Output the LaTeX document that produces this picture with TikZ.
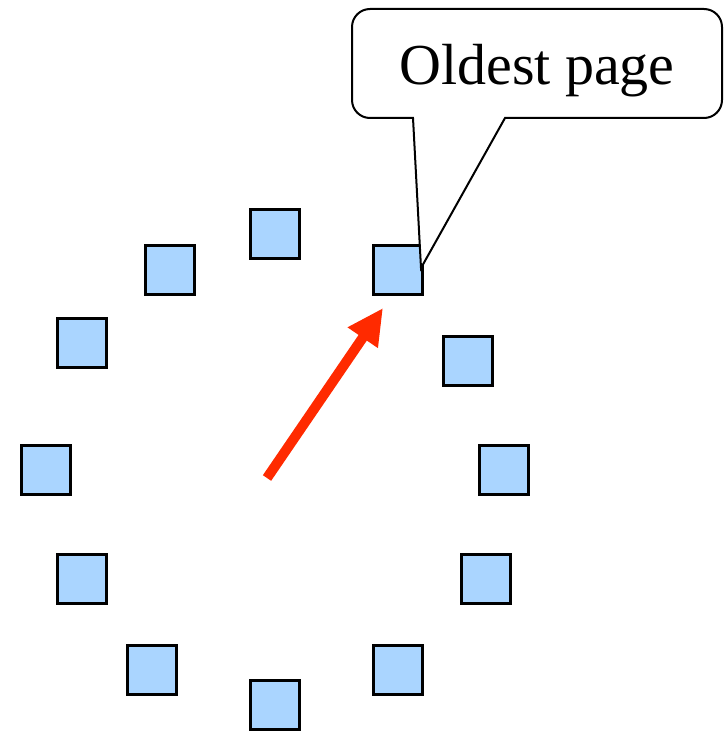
\documentclass[tikz,border=0pt]{standalone}
\usepackage{fontspec}
\setmainfont{Liberation Serif}
\usetikzlibrary{arrows.meta}
\definecolor{pagefill}{RGB}{170,213,255}
\definecolor{handred}{RGB}{255,42,0}
\begin{document}
\begin{tikzpicture}[x=1pt,y=-1pt,
  pagebox/.style={draw=black,line width=2.5pt,fill=pagefill,minimum width=49pt,minimum height=49pt,inner sep=0pt,outer sep=0pt},
  calloutline/.style={draw=black,line width=2pt,fill=white,line join=miter}]
\useasboundingbox (0,0) rectangle (726,733);
\node[pagebox] (A) at (275,234) {};
\node[pagebox] (B) at (170,270) {};
\node[pagebox] (C) at (398,270) {};
\node[pagebox] (D) at (82,343) {};
\node[pagebox] (E) at (468,361) {};
\node[pagebox] (F) at (46,470) {};
\node[pagebox] (G) at (504,470) {};
\node[pagebox] (H) at (82,579) {};
\node[pagebox] (I) at (486,579) {};
\node[pagebox] (J) at (152,670) {};
\node[pagebox] (K) at (398,670) {};
\node[pagebox] (L) at (275,705) {};
\coordinate (tip) at (421,268);
\draw[calloutline] (413,118) [rounded corners=18pt] -- (352,118) -- (352,9) -- (722,9) -- (722,118) -- (620,118) [sharp corners] -- (505,118) -- (tip) -- cycle;
\node[anchor=base,font=\fontsize{58}{62}\selectfont,inner sep=0pt] (label) at (537,85) {Oldest page};
\coordinate (hand) at (267,478);
\coordinate (handtip) at (383,308);
\draw[handred,line width=10pt,-{Triangle[length=36pt,width=34pt]}] (hand) -- (handtip);
\end{tikzpicture}
\end{document}
